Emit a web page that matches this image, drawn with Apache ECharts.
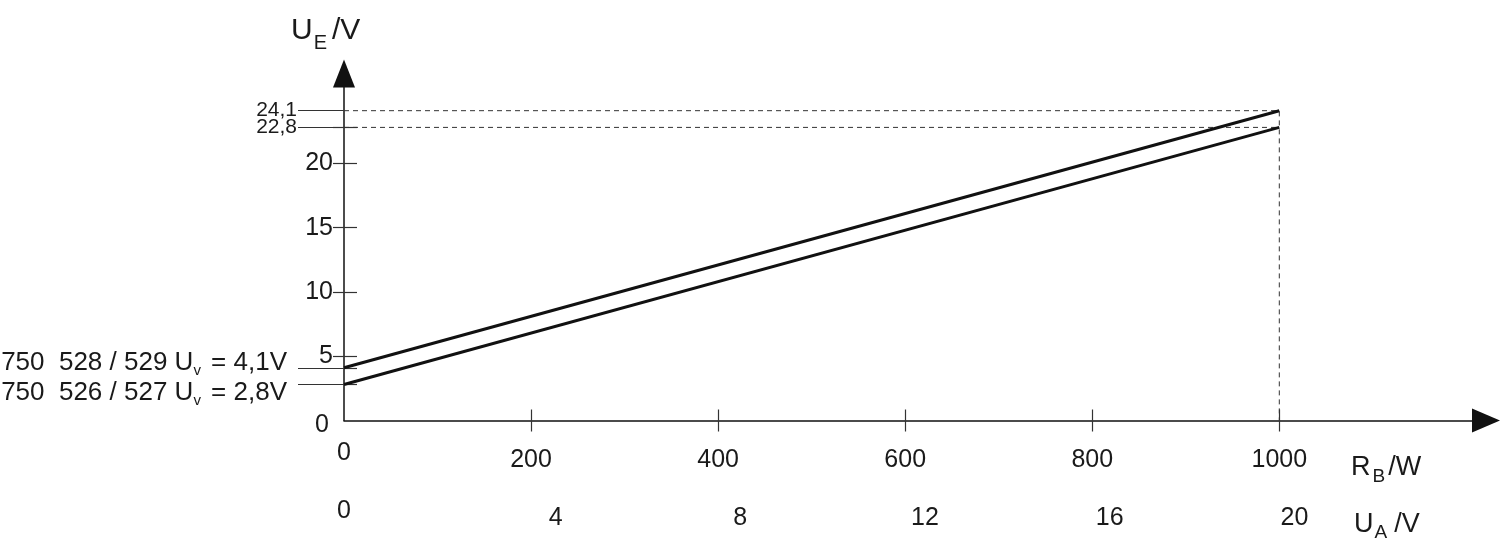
<!DOCTYPE html>
<html>
<head>
<meta charset="utf-8">
<script src="https://cdn.jsdelivr.net/npm/echarts@6/dist/echarts.min.js"></script>
<style>
html,body{margin:0;padding:0;background:#fff;}
#chart{width:1500px;height:541px;}
</style>
</head>
<body>
<div id="chart"></div>
<script>
// ---- data ----
const rbValues = [0, 1000];                 // R_B / Ω (x axis)
const ueHigh = [4.1, 24.1];                 // 750 528 / 529
const ueLow = [2.8, 22.8];                  // 750 526 / 527
const xTickValues = [200, 400, 600, 800, 1000];
const xLabelValues = [0, 200, 400, 600, 800, 1000];
const uaLabelValues = [0, 4, 8, 12, 16, 20];
const yTickValues = [5, 10, 15, 20];
const yLabelValues = [0, 5, 10, 15, 20];
const endMarks = [24.1, 22.8];
const startMarks = [4.1, 2.8];
const startMarkTexts = ['750  528 / 529', '750  526 / 527'];

// ---- layout helpers ----
const FONT = 'Liberation Sans';
const TXT = '#1a1a1a';
const X_MAX = 1221;
const Y_MAX = 27;
const UA_MIN = -0.583, UA_MAX = 24.15;
const fmt = v => String(v).replace('.', ',');
const startLabelPadding = [[0, 0, 10, 0], [16, 0, 0, 0]];

const refHigh = [[0, ueHigh[1]], [rbValues[1], ueHigh[1]], [rbValues[1], 0]];
const refLow = [[0, ueLow[1]], [rbValues[1], ueLow[1]]];

const chart = echarts.init(document.getElementById('chart'), null, {renderer: 'canvas'});

const hidden = {show: false};
const baseX = {type: 'value', min: 0, max: X_MAX, position: 'bottom', splitLine: hidden,
  axisLine: {onZero: false}};
const baseY = {type: 'value', min: 0, max: Y_MAX, position: 'left', splitLine: hidden,
  axisLine: {onZero: false}};
const T = (size, extra) => Object.assign({fontFamily: FONT, fontSize: size, color: TXT, fontWeight: 'normal'}, extra || {});
const noHide = {hideOverlap: false, showMinLabel: true, showMaxLabel: true};
const tickStyle = {color: '#333', width: 1.2};

// one axis per annotation label, so that no label is hidden for overlapping
const endMarkAxes = endMarks.map(v => Object.assign({}, baseY, {
  axisLine: {show: false, onZero: false},
  axisTick: {show: true, inside: false, length: 46, customValues: [v], lineStyle: tickStyle},
  axisLabel: Object.assign({show: true, customValues: [v], margin: 47, fontFamily: FONT, fontSize: 21, color: TXT,
    formatter: x => fmt(x)}, noHide)
}));
const startMarkAxes = startMarks.map((v, i) => Object.assign({}, baseY, {
  axisLine: {show: false, onZero: false},
  axisTick: {show: true, inside: false, length: 46, customValues: [v], lineStyle: tickStyle},
  axisLabel: Object.assign({show: true, customValues: [v], margin: 57, padding: startLabelPadding[i],
    formatter: x => '{t|' + startMarkTexts[i] + ' U}{s|v}{t| = ' + fmt(x) + 'V}',
    rich: {
      t: T(26, {lineHeight: 24}),
      s: T(15, {lineHeight: 14, padding: [13, 3, 0, 0], verticalAlign: 'top'})
    }}, noHide)
}));

const option = {
  animation: false,
  backgroundColor: '#fff',
  grid: {left: 344, right: 14, top: 73.4, bottom: 120.5, containLabel: false, outerBoundsMode: 'none'},
  title: [
    {left: 286, top: 11, text: '{m|U}{s|E}{m|/V}',
      textStyle: {fontWeight: 'normal', rich: {
        m: T(30, {lineHeight: 30}),
        s: T(20, {lineHeight: 20, padding: [17, 5, 0, 1], verticalAlign: 'top'})
      }}},
    {left: 1346, top: 449, text: '{m|R}{s|B}{m|/W}',
      textStyle: {fontWeight: 'normal', rich: {
        m: T(27, {lineHeight: 27}),
        s: T(19, {lineHeight: 19, padding: [13, 3, 0, 2], verticalAlign: 'top'})
      }}},
    {left: 1349, top: 506, text: '{m|U}{s|A}{m|/V}',
      textStyle: {fontWeight: 'normal', rich: {
        m: T(27, {lineHeight: 27}),
        s: T(19, {lineHeight: 19, padding: [12, 7, 0, 1], verticalAlign: 'top'})
      }}}
  ],
  xAxis: [
    Object.assign({}, baseX, {
      axisLine: {show: true, onZero: false, symbol: ['none', 'triangle'], symbolSize: [24, 28],
        lineStyle: {color: '#111', width: 1.5}},
      axisTick: {show: true, inside: false, length: 11, customValues: xTickValues, lineStyle: tickStyle},
      axisLabel: Object.assign({show: true, customValues: xLabelValues, margin: 40, verticalAlign: 'middle',
        fontFamily: FONT, fontSize: 25, color: TXT,
        formatter: v => v === 0 ? '{z|0}' : String(v),
        rich: {z: T(25, {padding: [0, 0, 14, 0]})}}, noHide)
    }),
    Object.assign({}, baseX, {
      axisLine: {show: false, onZero: false},
      axisTick: {show: true, inside: true, length: 11, customValues: xTickValues, lineStyle: tickStyle},
      axisLabel: hidden
    }),
    Object.assign({}, baseX, {
      min: UA_MIN, max: UA_MAX,
      axisLine: {show: false, onZero: false},
      axisTick: hidden,
      axisLabel: Object.assign({show: true, customValues: uaLabelValues, margin: 98, verticalAlign: 'middle',
        fontFamily: FONT, fontSize: 25, color: TXT,
        formatter: v => v === 0 ? '{z|0}' : String(v),
        rich: {z: T(25, {padding: [0, 54, 14, 0]})}}, noHide)
    })
  ],
  yAxis: [
    Object.assign({}, baseY, {
      axisLine: {show: true, onZero: false, symbol: ['none', 'triangle'], symbolSize: [22, 28],
        lineStyle: {color: '#111', width: 1.5}},
      axisTick: {show: true, inside: false, length: 11, customValues: yTickValues.concat([endMarks[1]]), lineStyle: tickStyle},
      axisLabel: Object.assign({show: true, customValues: yLabelValues, margin: 11, fontFamily: FONT, fontSize: 25, color: TXT,
        formatter: v => v === 0 ? '{z|0}' : String(v),
        rich: {z: T(25, {padding: [10, 4, 0, 0]})}}, noHide)
    }),
    Object.assign({}, baseY, {
      axisLine: {show: false, onZero: false},
      axisTick: {show: true, inside: true, length: 13, customValues: yTickValues.concat([endMarks[1]], startMarks), lineStyle: tickStyle},
      axisLabel: hidden
    })
  ].concat(endMarkAxes, startMarkAxes),
  series: [
    {type: 'line', name: '750 528/529', data: rbValues.map((x, i) => [x, ueHigh[i]]), showSymbol: false, symbol: 'none',
      lineStyle: {color: '#111', width: 3}, z: 5},
    {type: 'line', name: '750 526/527', data: rbValues.map((x, i) => [x, ueLow[i]]), showSymbol: false, symbol: 'none',
      lineStyle: {color: '#111', width: 3}, z: 5},
    {type: 'line', data: refHigh, showSymbol: false, symbol: 'none',
      lineStyle: {color: '#333', width: 1, type: [5, 4]}, z: 3},
    {type: 'line', data: refLow, showSymbol: false, symbol: 'none',
      lineStyle: {color: '#333', width: 1, type: [5, 4]}, z: 3}
  ]
};
chart.setOption(option);
</script>
</body>
</html>
